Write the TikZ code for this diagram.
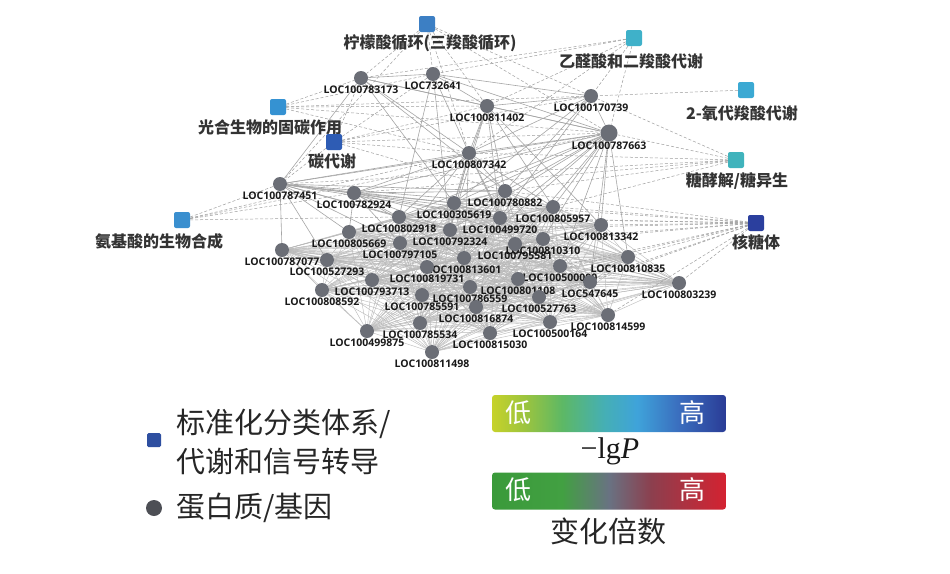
\documentclass[tikz,border=0pt]{standalone}
\usepackage{fontspec}
\setsansfont{Open Sans}
\newfontfamily\cjk{Noto Sans CJK SC}
\newfontfamily\timesfont{Liberation Serif}
\usetikzlibrary{backgrounds}

\definecolor{genegray}{HTML}{6B6E76}
\definecolor{tcablue}{HTML}{3C7FC4}
\definecolor{glyoxcyan}{HTML}{3FB1C9}
\definecolor{oxocyan}{HTML}{3BA9D3}
\definecolor{photoblue}{HTML}{3592D2}
\definecolor{carbonblue}{HTML}{2E5CB4}
\definecolor{glycocyan}{HTML}{40B3BC}
\definecolor{aminoblue}{HTML}{3A8FCF}
\definecolor{ribonavy}{HTML}{2B3F9E}
\definecolor{legendblue}{HTML}{2E4FA0}
\definecolor{legendgray}{HTML}{4D4F55}

\definecolor{pv1}{HTML}{C6D22A}
\definecolor{pv2}{HTML}{9CC43E}
\definecolor{pv3}{HTML}{5DB865}
\definecolor{pv4}{HTML}{45AFB5}
\definecolor{pv5}{HTML}{3FA3DA}
\definecolor{pv6}{HTML}{3A6DBE}
\definecolor{pv7}{HTML}{2A3C96}
\definecolor{fc1}{HTML}{3A9A3A}
\definecolor{fc2}{HTML}{42A042}
\definecolor{fc3}{HTML}{697282}
\definecolor{fc4}{HTML}{8C3F4E}
\definecolor{fc5}{HTML}{D42231}

\pgfdeclarehorizontalshading{pvalbar}{100bp}{color(0bp)=(pv1); color(25bp)=(pv1);
  color(32bp)=(pv2); color(40bp)=(pv3); color(49bp)=(pv4); color(56bp)=(pv5);
  color(65bp)=(pv6); color(75bp)=(pv7); color(100bp)=(pv7)}
\pgfdeclarehorizontalshading{fcbar}{100bp}{color(0bp)=(fc1); color(25bp)=(fc1);
  color(40bp)=(fc2); color(50bp)=(fc3); color(59bp)=(fc4); color(75bp)=(fc5);
  color(100bp)=(fc5)}

\def\clusterlist{g80882,g305619,g02918,g499720,g05957,g92324,g05669,g13342,g10310,g97105,g95581,g87077,g10835,g13601,g527293,g500000,g19731,g01108,g93713,g547645,g03239,g86559,g08592,g85591,g527763,g16874,g14599,g500164,g85534,g499875,g15030,g11498}

\begin{document}
\begin{tikzpicture}[x=1pt, y=-1pt,
    gene/.style={
        circle,
        fill=genegray,
        minimum size=14pt,
        inner sep=0pt,
        label distance=3pt
    },
    genelbl/.style={
        font=\sffamily\bfseries\fontsize{10.5}{11}\selectfont,
        text=black!90,
        inner sep=0pt
    },
    pathway/.style={
        rectangle,
        rounded corners=2pt,
        minimum size=16pt,
        inner sep=0pt
    },
    pathlbl/.style={
        font=\cjk\bfseries\fontsize{16}{16}\selectfont,
        text=black!80,
        inner sep=0pt
    },
    meshedge/.style={draw=gray!55, line width=0.4pt},
    geneedge/.style={draw=gray!70, line width=0.6pt},
    pathedge/.style={draw=gray!75, densely dashed, line width=0.5pt},
    legendtxt/.style={
        font=\cjk\fontsize{29}{39}\selectfont,
        text=black!85,
        inner sep=0pt,
        align=left
    },
    bar/.style={
        rectangle,
        rounded corners=3pt,
        minimum width=234pt,
        minimum height=37pt,
        inner sep=0pt,
        shade
    },
    bartxt/.style={
        font=\cjk\fontsize{26}{26}\selectfont,
        text=white,
        inner sep=0pt
    }
]
\useasboundingbox (0,0) rectangle (950,573);

%%%%%%%%%%%%%%%%%%%%%%%%
% Pathways
%%%%%%%%%%%%%%%%%%%%%%%%

\node[pathway, fill=tcablue] (tca) at (427,24) {};
\node[pathlbl] (tcalbl) at (430,43) {柠檬酸循环(三羧酸循环)};

\node[pathway, fill=glyoxcyan] (glyox) at (634,38) {};
\node[pathlbl] (glyoxlbl) at (631,61) {乙醛酸和二羧酸代谢};

\node[pathway, fill=oxocyan] (oxo) at (746,90) {};
\node[pathlbl] (oxolbl) at (742,113) {2-氧代羧酸代谢};

\node[pathway, fill=photoblue] (photo) at (278,107) {};
\node[pathlbl] (photolbl) at (270,127) {光合生物的固碳作用};

\node[pathway, fill=carbonblue] (carbon) at (334,142) {};
\node[pathlbl] (carbonlbl) at (332,161) {碳代谢};

\node[pathway, fill=glycocyan] (glyco) at (736,160) {};
\node[pathlbl] (glycolbl) at (737,181) {糖酵解/糖异生};

\node[pathway, fill=aminoblue] (amino) at (182,220) {};
\node[pathlbl] (aminolbl) at (159,241) {氨基酸的生物合成};

\node[pathway, fill=ribonavy] (ribo) at (756,223) {};
\node[pathlbl] (ribolbl) at (756,242) {核糖体};

%%%%%%%%%%%%%%%%%%%%%%%%
% Genes
%%%%%%%%%%%%%%%%%%%%%%%%

% --- Upper genes ---
\node[gene, label={[genelbl]below:LOC100783173}] (g83173) at (361,78) {};
\node[gene, label={[genelbl]below:LOC732641}] (g732641) at (433,74) {};
\node[gene, label={[genelbl]below:LOC100811402}] (g11402) at (487,106) {};
\node[gene, label={[genelbl]below:LOC100170739}] (g170739) at (591,96) {};
\node[gene, minimum size=17pt, label={[genelbl]below:LOC100787663}] (g87663) at (609,133) {};
\node[gene, label={[genelbl]below:LOC100807342}] (g07342) at (469,153) {};
\node[gene, label={[genelbl]below:LOC100787451}] (g87451) at (280,184) {};
\node[gene, label={[genelbl]below:LOC100782924}] (g82924) at (354,193) {};

% --- Cluster ---
\node[gene, label={[genelbl]below:LOC100780882}] (g80882) at (505,191) {};
\node[gene, label={[genelbl]below:LOC100305619}] (g305619) at (454,203) {};
\node[gene, label={[genelbl]below:LOC100802918}] (g02918) at (399,217) {};
\node[gene, label={[genelbl]below:LOC100499720}] (g499720) at (500,218) {};
\node[gene, label={[genelbl]below:LOC100805957}] (g05957) at (553,207) {};
\node[gene, label={[genelbl]below:LOC100792324}] (g92324) at (450,230) {};
\node[gene, label={[genelbl]below:LOC100805669}] (g05669) at (349,232) {};
\node[gene, label={[genelbl]below:LOC100813342}] (g13342) at (601,225) {};
\node[gene, label={[genelbl]below:LOC100810310}] (g10310) at (543,239) {};
\node[gene, label={[genelbl]below:LOC100797105}] (g97105) at (400,243) {};
\node[gene, label={[genelbl]below:LOC100795581}] (g95581) at (515,244) {};
\node[gene, label={[genelbl]below:LOC100787077}] (g87077) at (282,250) {};
\node[gene, label={[genelbl]below:LOC100810835}] (g10835) at (628,257) {};
\node[gene, label={[genelbl]below:LOC100813601}] (g13601) at (464,258) {};
\node[gene, label={[genelbl]below:LOC100527293}] (g527293) at (327,260) {};
\node[gene, label={[genelbl]below:LOC100500000}] (g500000) at (560,266) {};
\node[gene, label={[genelbl]below:LOC100819731}] (g19731) at (427,267) {};
\node[gene, label={[genelbl]below:LOC100801108}] (g01108) at (518,279) {};
\node[gene, label={[genelbl]below:LOC100793713}] (g93713) at (372,280) {};
\node[gene, label={[genelbl]below:LOC547645}] (g547645) at (590,282) {};
\node[gene, label={[genelbl]below:LOC100803239}] (g03239) at (679,283) {};
\node[gene, label={[genelbl]below:LOC100786559}] (g86559) at (470,287) {};
\node[gene, label={[genelbl]below:LOC100808592}] (g08592) at (322,290) {};
\node[gene, label={[genelbl]below:LOC100785591}] (g85591) at (422,295) {};
\node[gene, label={[genelbl]below:LOC100527763}] (g527763) at (539,297) {};
\node[gene, label={[genelbl]below:LOC100816874}] (g16874) at (476,307) {};
\node[gene, label={[genelbl]below:LOC100814599}] (g14599) at (608,315) {};
\node[gene, label={[genelbl]below:LOC100500164}] (g500164) at (550,322) {};
\node[gene, label={[genelbl]below:LOC100785534}] (g85534) at (420,323) {};
\node[gene, label={[genelbl]below:LOC100499875}] (g499875) at (367,331) {};
\node[gene, label={[genelbl]below:LOC100815030}] (g15030) at (490,333) {};
\node[gene, label={[genelbl]below:LOC100811498}] (g11498) at (432,352) {};

%%%%%%%%%%%%%%%%%%%%%%%%
% Edges (behind nodes)
%%%%%%%%%%%%%%%%%%%%%%%%

\begin{pgfonlayer}{background}
\fill[white] (0,0) rectangle (950,573);

% gene-gene inside the cluster
\foreach \a [count=\i] in \clusterlist {
    \foreach \b [count=\j] in \clusterlist {
        \ifnum\j>\i \draw[meshedge] (\a) -- (\b); \fi
    }
}

% gene-gene from the upper genes
\foreach \src/\dsts in {
    g87451/{g83173,g82924,g02918,g05669,g87077,g527293,g97105,g92324,g305619,g80882,g499720,g05957,g07342,g87663,g13342},
    g82924/{g02918,g05669,g305619,g80882,g92324,g97105,g13601,g10310,g499720},
    g83173/{g732641,g11402,g87663,g07342,g305619,g80882},
    g732641/{g11402,g170739,g87663,g07342,g02918,g92324},
    g11402/{g170739,g87663,g07342,g80882,g305619,g499720,g92324,g05957,g13342},
    g170739/{g87663,g07342,g80882,g305619,g499720},
    g87663/{g07342,g80882,g305619,g499720,g05957,g13342,g10310,g95581,g92324,g02918,g500000,g10835,g547645,g82924,g13601},
    g07342/{g80882,g305619,g02918,g82924,g92324,g499720,g05957,g95581,g13601,g97105}} {
    \foreach \d in \dsts {
        \draw[geneedge] (\src) -- (\d);
    }
}

% pathway-gene
\foreach \src/\dsts in {
    tca/{g83173,g732641,g11402,g170739,g87663,g07342,g87451},
    glyox/{g170739,g83173,g732641,g11402,g87663,g07342},
    oxo/{g170739},
    photo/{g83173,g732641,g11402,g87663,g07342,g170739},
    carbon/{g83173,g732641,g11402,g170739,g87663,g07342,g87451,g80882},
    glyco/{g87663,g07342,g87451,g82924,g80882,g05957,g170739},
    amino/{g87451,g82924,g87663,g07342,g02918},
    ribo/{g80882,g305619,g499720,g05957,g13342,g10310,g95581,g10835,g500000,g547645,g03239,g14599,g527763,g92324,g02918,g01108}} {
    \foreach \d in \dsts {
        \draw[pathedge] (\src) -- (\d);
    }
}
\end{pgfonlayer}

%%%%%%%%%%%%%%%%%%%%%%%%
% Legend
%%%%%%%%%%%%%%%%%%%%%%%%

% --- Node types ---
\node[rectangle, rounded corners=1.5pt, fill=legendblue, minimum size=14pt, inner sep=0pt] (keypath) at (154,440) {};
\node[legendtxt, anchor=west] (keypathlbl) at (176,442) {标准化分类体系/\\代谢和信号转导};
\node[circle, fill=legendgray, minimum size=16pt, inner sep=0pt] (keygene) at (154,508) {};
\node[legendtxt, anchor=west] (keygenelbl) at (176,508) {蛋白质/基因};

% --- -lgP ---
\node[bar, shading=pvalbar] (pbar) at (609,413.5) {};
\node[bartxt] (plow) at (518,413) {低};
\node[bartxt] (phigh) at (692,413) {高};
\node[font=\timesfont\fontsize{30}{30}\selectfont, text=black!90, inner sep=0pt] (plbl) at (610,451) {−lg\textit{P}};

% --- Fold change ---
\node[bar, shading=fcbar] (fbar) at (609,491) {};
\node[bartxt] (flow) at (518,490) {低};
\node[bartxt] (fhigh) at (692,490) {高};
\node[legendtxt] (fclbl) at (608,531) {变化倍数};

\end{tikzpicture}
\end{document}
